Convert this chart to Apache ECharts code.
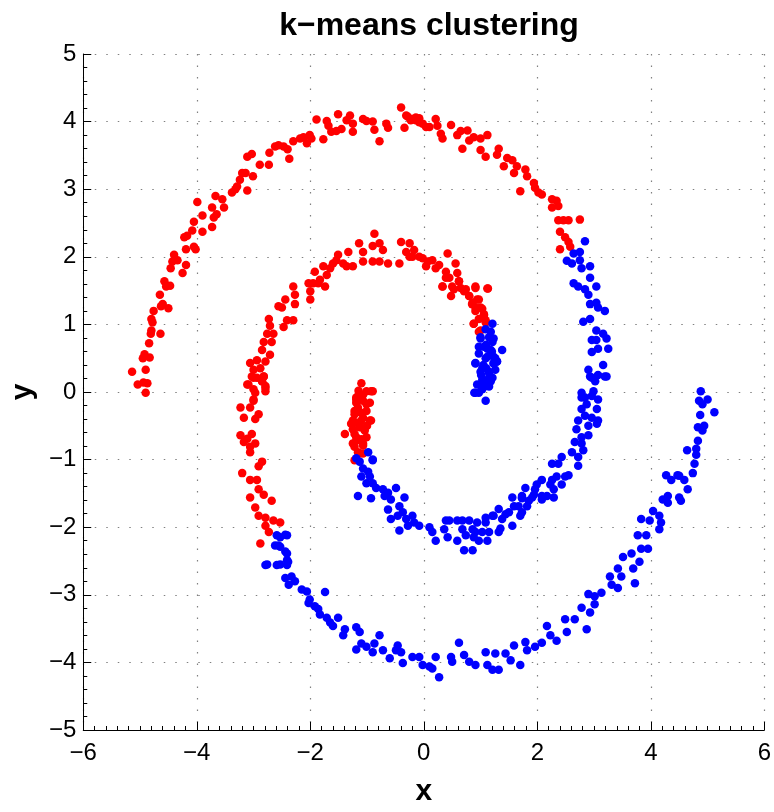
<!DOCTYPE html>
<html>
<head>
<meta charset="utf-8">
<script src="https://cdn.jsdelivr.net/npm/echarts@6/dist/echarts.min.js"></script>
<style>
  html, body { margin: 0; padding: 0; background: #fff; }
  #chart { width: 774px; height: 812px; }
</style>
</head>
<body>
<div id="chart"></div>
<script>
// cluster 1 (red)
let redPoints = [
  [-5.14,0.30],[-5.04,0.11],[-4.90,-0.01],[-4.94,0.14],[-4.87,0.13],[-4.90,0.33],[-4.95,0.50],[-4.92,0.56],[-4.83,0.51],[-4.84,0.72],
  [-4.81,0.86],[-4.80,0.91],[-4.78,1.03],[-4.80,1.08],[-4.76,1.20],[-4.64,0.86],[-4.63,1.27],[-4.60,1.30],[-4.50,1.24],[-4.65,1.44],
  [-4.57,1.64],[-4.54,1.56],[-4.47,1.57],[-4.46,1.83],[-4.43,1.93],[-4.40,2.03],[-4.34,1.95],[-4.25,1.76],[-4.19,1.88],[-4.22,2.29],
  [-4.17,2.31],[-4.19,2.11],[-4.02,2.11],[-4.05,2.15],[-4.08,2.39],[-4.05,2.52],[-3.99,2.81],[-3.90,2.61],[-3.90,2.37],[-3.73,2.44],
  [-3.70,2.58],[-3.73,2.73],[-3.67,2.90],[-3.55,2.85],[-3.52,2.73],[-3.65,2.63],[-3.38,2.95],[-3.32,3.00],[-3.29,3.04],[-3.24,3.14],
  [-3.20,3.24],[-3.14,3.24],[-3.11,2.98],[-3.01,3.19],[-3.11,3.48],[-3.03,3.52],[-2.89,3.36],[-2.73,3.36],[-2.72,3.54],[-2.62,3.63],
  [-2.56,3.65],[-2.47,3.63],[-2.40,3.59],[-2.37,3.45],[-2.30,3.71],[-2.18,3.75],[-2.12,3.77],[-2.06,3.68],[-2.01,3.80],[-1.98,3.75],
  [-1.89,4.03],[-1.77,3.74],[-1.71,4.01],[-1.68,3.94],[-1.63,3.85],[-1.54,3.86],[-1.51,4.11],[-1.45,3.89],[-1.36,4.02],[-1.30,4.09],
  [-1.25,3.85],[-1.25,3.97],[-1.07,4.04],[-1.01,4.01],[-0.90,4.00],[-0.87,3.88],[-0.78,3.71],[-0.66,3.97],[-0.63,3.91],[-0.40,4.21],
  [-0.34,3.91],[-0.28,4.07],[-0.23,4.02],[-0.14,4.02],[-0.08,4.05],[-0.02,3.97],[0.04,3.92],[-0.31,4.09],[-0.20,4.04],[-0.14,4.06],
  [-0.08,3.99],[0.10,3.92],[0.21,4.04],[0.24,3.94],[0.30,3.82],[0.33,3.75],[0.48,3.95],[0.59,3.80],[0.65,3.86],[0.68,3.60],
  [0.77,3.87],[0.80,3.72],[0.88,3.77],[1.00,3.75],[1.00,3.58],[1.09,3.48],[1.12,3.80],[1.32,3.60],[1.29,3.51],[1.47,3.46],
  [1.41,3.34],[1.56,3.43],[1.59,3.24],[1.64,3.34],[1.70,2.97],[1.79,3.29],[1.82,3.19],[1.94,3.09],[1.96,3.02],[2.02,2.95],
  [2.08,2.92],[2.26,2.85],[2.34,2.83],[2.26,2.73],[2.37,2.75],[2.37,2.54],[2.46,2.54],[2.55,2.54],[2.75,2.55],[2.40,2.37],
  [2.49,2.29],[2.55,2.22],[2.40,2.11],[2.58,2.15],
  [-0.87,2.34],[-1.14,2.20],[-0.90,2.16],[-0.78,2.20],[-0.72,2.10],[-0.90,1.93],[-0.78,1.93],[-0.63,1.90],[-0.40,2.22],[-0.25,2.20],
  [-0.43,1.90],[-0.25,2.00],[-0.17,2.10],[-0.08,2.00],[0.04,1.86],[-1.07,2.07],[-1.07,1.93],[-1.33,2.07],[-1.51,2.03],[-1.54,1.95],
  [-1.42,1.90],[-1.36,1.86],[-1.25,1.86],[-1.60,1.90],[-1.65,1.83],[-1.77,1.86],[-1.71,1.73],[-1.83,1.66],[-1.92,1.78],[-1.95,1.61],
  [-1.86,1.61],[-1.74,1.56],[-2.03,1.61],[-2.00,1.49],[-2.00,1.37],[-2.30,1.56],[-2.27,1.44],[-2.27,1.30],[-2.44,1.37],[-2.50,1.25],
  [-2.56,1.27],[-2.30,1.06],[-2.41,1.06],[-2.47,0.96],[-2.73,1.08],[-2.71,0.98],[-2.65,0.86],[-2.76,0.86],[-2.82,0.74],[-2.85,0.62],
  [-2.68,0.74],[-2.71,0.55],[-2.79,0.45],[-2.94,0.47],[-3.06,0.43],[-3.00,0.33],[-2.88,0.35],[-2.82,0.23],[-3.00,0.21],[-3.09,0.11],
  [-3.00,0.04],[-2.94,0.21],[-2.85,0.16],[-2.79,0.09],[-2.79,0.01],[-3.00,-0.11],
  [-0.31,2.07],[-0.20,2.00],[-0.02,1.98],[0.07,1.93],[0.15,1.95],[0.21,1.83],[0.27,1.88],[0.42,2.05],[0.39,1.78],[0.45,1.69],
  [0.56,1.90],[0.59,1.76],[0.62,1.64],[0.33,1.56],[0.50,1.56],[0.48,1.42],[0.65,1.54],[0.74,1.52],[0.91,1.56],[1.12,1.53],
  [0.80,1.42],[0.86,1.32],[0.97,1.37],[0.91,1.25],[1.03,1.23],[1.06,1.13],[0.88,1.01],[0.97,0.89],[1.09,1.06],
  [0.39,1.69],[0.62,1.64],[0.33,1.56],[0.53,1.52],[0.71,1.49],[0.91,1.54],[1.13,1.53],[0.80,1.42],[0.94,1.37],[0.85,1.30],
  [1.00,1.25],[0.91,1.20],[1.06,1.15],[0.97,1.08],[1.09,1.03],[0.88,1.01],[1.00,0.91],
  [-3.03,0.23],[-2.82,0.23],[-3.11,0.11],[-2.85,0.16],[-2.79,0.06],[-2.97,-0.01],[-3.00,-0.13],[-3.23,-0.23],[-3.06,-0.23],[-2.91,-0.33],
  [-3.17,-0.38],[-2.97,-0.40],[-3.23,-0.64],[-3.03,-0.62],[-2.97,-0.76],[-3.17,-0.74],[-3.06,-0.89],[-2.85,-1.03],[-2.91,-1.10],[-3.20,-1.20],
  [-3.06,-1.30],[-2.94,-1.30],[-2.91,-1.44],[-3.06,-1.56],[-2.82,-1.52],[-2.68,-1.61],[-2.97,-1.71],[-2.91,-1.83],[-2.79,-1.86],[-2.65,-1.90],
  [-2.53,-1.93],[-2.79,-1.98],[-2.73,-2.07],[-2.88,-2.24],[-3.06,-0.81],[-3.11,-0.69],
  [-1.10,0.13],[-1.01,0.01],[-0.90,0.01],[-1.19,-0.08],[-1.07,-0.13],[-1.16,-0.23],[-1.01,-0.28],[-1.22,-0.33],[-1.07,-0.38],[-0.95,-0.42],
  [-1.28,-0.47],[-1.13,-0.52],[-1.39,-0.62],[-1.22,-0.62],[-1.01,-0.67],[-1.25,-0.76],[-1.07,-0.79],[-1.16,-0.89],[-1.22,-1.01],[-1.07,-0.91],
  [-1.19,-0.72],[-1.10,-0.42],[-1.19,-0.16],[-0.95,-0.16],[-1.19,-0.11],[-1.15,-0.05],[-1.05,-0.55],[-1.20,-0.45],[-1.12,-0.30],[-1.00,-0.50],
  [-1.25,-0.55],[-1.10,-0.70],[-1.15,0.02],
  [-0.93,0.01],[-1.07,-0.04],[-1.01,-0.18],[-1.22,-0.28],[-1.25,-0.42],[-0.93,-0.42],[-1.13,-0.50],[-1.04,-0.57],[-1.19,-0.67],[-1.07,-0.76],
  [-1.22,-0.81],[-1.13,-0.91]
];

// cluster 2 (blue)
let bluePoints = [
  [1.21,1.01],[1.18,0.89],[1.23,0.79],[1.00,0.79],[0.97,0.67],[1.12,0.64],[1.38,0.62],[1.23,0.52],[1.29,0.45],[1.09,0.50],
  [0.91,0.43],[1.00,0.30],[1.15,0.28],[1.26,0.33],[1.03,0.18],[1.18,0.16],[1.09,0.09],[0.91,-0.01],[1.09,-0.13],[0.97,-0.01],
  [1.23,0.43],[1.15,0.21],[1.10,0.70],[1.05,0.40],[1.20,0.60],[1.10,0.35],[1.00,0.10],
  [1.09,0.93],[1.00,0.81],[1.15,0.81],[1.21,0.74],[1.06,0.67],[1.18,0.62],[0.97,0.57],[1.12,0.52],[1.26,0.50],[1.23,0.42],
  [0.91,0.42],[1.03,0.35],[1.15,0.30],[1.01,0.25],[1.21,0.21],[1.06,0.16],[0.94,0.11],[1.15,0.08],[1.03,0.04],[0.89,-0.01],
  [1.29,0.45],
  [2.84,2.23],[2.75,2.07],[2.64,2.05],[2.52,1.94],[2.61,1.90],[2.75,1.95],[2.78,1.83],[2.93,1.86],[2.93,1.69],[2.64,1.61],
  [2.72,1.56],[2.84,1.52],[2.90,1.44],[3.04,1.56],[2.93,1.30],[3.04,1.32],[3.07,1.25],[3.19,1.20],[2.93,1.08],[2.81,1.04],
  [3.04,0.91],[2.96,0.77],[3.16,0.86],[3.22,0.79],[3.25,0.64],[3.07,0.64],[2.96,0.59],[3.04,0.77],[2.90,0.33],[2.96,0.21],
  [3.07,0.25],[3.16,0.40],[3.22,0.23],[2.78,-0.01],[2.84,-0.08],[2.96,-0.06],[3.07,-0.11],
  [2.93,0.23],[3.02,0.16],[3.19,0.23],[2.99,0.01],[2.78,-0.08],[2.87,-0.18],[3.05,-0.25],[2.78,-0.25],[2.84,-0.35],[2.96,-0.38],
  [2.72,-0.42],[3.07,-0.42],[2.90,-0.50],[3.05,-0.47],[2.69,-0.55],[2.78,-0.67],[2.90,-0.64],[2.66,-0.74],[2.78,-0.76],[2.61,-0.89],
  [2.81,-0.86],[2.72,-0.96],[2.43,-0.96],[2.37,-1.06],[2.26,-1.06],[2.72,-1.09],[2.49,-1.25],[2.55,-1.23],[2.26,-1.30],[2.43,-1.37],
  [2.29,-1.44],[1.99,-1.37],[1.96,-1.44],[1.91,-1.56],[1.73,-1.56],[2.08,-1.59],[2.17,-1.54],[2.29,-1.56],
  [-0.98,-0.89],[-0.90,-1.01],[-1.13,-1.03],[-1.07,-1.13],[-0.98,-1.18],[-1.10,-1.25],[-0.95,-1.25],[-1.01,-1.35],[-0.90,-1.35],[-0.84,-1.42],
  [-1.16,-1.54],[-0.93,-1.57],[-0.72,-1.44],[-0.63,-1.49],[-0.49,-1.42],[-0.69,-1.54],[-0.58,-1.59],[-0.34,-1.56],[-0.63,-1.74],[-0.58,-1.88],
  [-0.43,-1.69],[-0.37,-1.78],[-0.46,-1.83],[-0.31,-1.88],[-0.20,-1.83],[-0.17,-1.93],[-0.08,-1.98],[-0.43,-2.05],[-0.28,-1.98],[0.10,-2.00],
  [0.15,-2.07],[0.21,-2.20],[0.39,-1.90],[0.36,-2.03],[0.42,-2.15],[0.59,-1.90],[0.68,-2.03],[0.80,-1.90],[0.74,-2.12],[0.86,-2.03],
  [0.88,-2.15],[0.86,-2.34],[1.03,-2.07],[1.09,-1.93],[1.15,-2.07],[1.23,-1.83],[1.32,-2.07],[1.38,-1.88],[1.50,-1.78],[1.56,-1.98],
  [1.70,-1.83],[1.73,-1.57],[1.82,-1.69],[1.67,-1.69],[1.12,-2.20],
  [0.45,-1.90],[0.68,-1.90],[0.94,-1.93],[1.09,-1.86],[1.21,-1.83],[1.32,-1.73],[1.44,-1.81],[1.56,-1.56],[1.59,-1.69],[1.73,-1.78],
  [1.73,-1.54],[1.85,-1.61],[1.79,-1.42],[1.94,-1.52],[2.08,-1.54],[2.08,-1.30],[2.23,-1.37],[2.34,-1.25],[0.91,-2.07],[1.35,-2.02],
  [0.71,-2.34],[0.59,-2.20],[0.97,-2.20],[-1.19,-0.98],[-0.90,-1.00],
  [-2.53,-2.15],[-2.41,-2.12],[-2.56,-2.27],[-2.41,-2.39],[-2.76,-2.55],[-2.53,-2.55],[-2.39,-2.51],
  [-2.59,-2.12],[-2.44,-2.11],[-2.62,-2.27],[-2.53,-2.29],[-2.44,-2.36],[-2.79,-2.56],[-2.59,-2.56],[-2.41,-2.49],[-2.41,-2.56],[-2.44,-2.75],
  [-2.33,-2.73],[-2.38,-2.85],[-2.27,-2.80],[-2.15,-2.92],[-2.06,-2.95],[-1.74,-2.96],[-2.01,-3.07],[-2.03,-3.12],[-1.92,-3.17],[-1.86,-3.21],
  [-1.83,-3.29],[-1.71,-3.34],[-1.65,-3.41],[-1.51,-3.34],[-1.60,-3.46],[-1.39,-3.51],[-1.42,-3.60],[-1.19,-3.48],[-1.13,-3.55],[-1.10,-3.72],
  [-1.19,-3.81],[-1.01,-3.77],[-0.87,-3.72],[-0.90,-3.85],[-0.78,-3.60],[-0.72,-3.82],[-0.60,-3.94],[-0.46,-3.75],[-0.40,-3.85],[-0.49,-3.82],
  [-0.37,-4.01],[-0.20,-3.92],[-0.08,-3.92],[-0.02,-4.04],[0.10,-4.06],[0.21,-3.92],[0.27,-4.22],[0.15,-4.09],[0.48,-3.92],[0.50,-3.99],
  [0.62,-3.71],[0.71,-3.89],[0.80,-3.99],[0.91,-4.04],[1.09,-3.85],[1.12,-4.04],[1.21,-4.11],[1.32,-4.11],[1.26,-3.87],[1.44,-3.87],
  [1.53,-3.97],[1.59,-3.75],[1.70,-4.04],[1.79,-3.70],[1.82,-3.82],[1.96,-3.77],[2.08,-3.71],[2.17,-3.46],[2.23,-3.60],[2.34,-3.68],
  [2.52,-3.55],[2.49,-3.36],[2.66,-3.36],[2.90,-2.99],[3.01,-3.02],[2.78,-3.19],[2.93,-3.26],[2.87,-3.51],[3.01,-3.14],[3.13,-2.97],
  [3.28,-2.73],[3.31,-2.85],[3.42,-2.90],[3.42,-2.61],[3.48,-2.73],[3.51,-2.44],[3.66,-2.39],[3.69,-2.61],[3.72,-2.83],[3.80,-2.51],
  [3.77,-2.12],[3.92,-2.12],[3.83,-2.32],[3.95,-2.32],[3.98,-1.90],[4.04,-1.76],[4.15,-1.83],[4.18,-1.93],[4.15,-2.03],[4.21,-1.59],
  [4.30,-1.54],[4.30,-1.64],[4.36,-1.30],[4.27,-1.23],[4.47,-1.23],[3.83,-1.88],
  [4.88,0.01],[4.85,-0.13],[5.00,-0.11],[4.91,-0.18],[5.12,-0.30],[4.87,-0.34],[4.83,-0.52],[4.94,-0.50],[4.91,-0.57],[4.83,-0.72],
  [4.80,-0.84],[4.64,-0.86],[4.80,-0.93],[4.77,-1.06],[4.74,-1.20],[4.50,-1.24],[4.59,-1.30],[4.65,-1.44],[4.50,-1.56],[4.53,-1.61]
];

let xRange = [-6, 6];
let yRange = [-5, 5];

let font = "'Liberation Sans', Arial, Helvetica, sans-serif";
let minus = (v) => String(v).replace("-", "\u2212");

let chart = echarts.init(document.getElementById("chart"));
let gridLine = { show: true, lineStyle: { color: "#808080", width: 1.2, type: [1.5, 10] } };

let option = {
  animation: false,
  title: {
    text: "k\u2212means clustering",
    left: 424,
    textAlign: "center",
    top: 5,
    textStyle: { fontFamily: font, fontWeight: "bold", fontSize: 32, color: "#000" },
  },
  grid: { left: 82, right: 7, top: 54, bottom: 71 },
  xAxis: {
    type: "value",
    min: xRange[0],
    max: xRange[1],
    interval: 2,
    name: "x",
    nameLocation: "middle",
    nameGap: 47,
    nameTextStyle: { fontFamily: font, fontWeight: "bold", fontSize: 30, color: "#000" },
    axisLine: { show: true, onZero: false, lineStyle: { color: "#000", width: 1 } },
    axisTick: { show: true, inside: true, length: 8, lineStyle: { color: "#000" } },
    minorTick: { show: true, splitNumber: 10, length: 4, lineStyle: { color: "#000" } },
    axisLabel: { fontFamily: font, fontSize: 24, color: "#000", margin: 11, formatter: minus },
    splitLine: gridLine,
  },
  yAxis: {
    type: "value",
    min: yRange[0],
    max: yRange[1],
    interval: 1,
    name: "y",
    nameLocation: "middle",
    nameGap: 38,
    nameTextStyle: { fontFamily: font, fontWeight: "bold", fontSize: 30, color: "#000" },
    axisLine: { show: true, onZero: false, lineStyle: { color: "#000", width: 1 } },
    axisTick: { show: true, inside: true, length: 8, lineStyle: { color: "#000" } },
    minorTick: { show: true, splitNumber: 5, length: 4, lineStyle: { color: "#000" } },
    axisLabel: { fontFamily: font, fontSize: 24, color: "#000", margin: 7, formatter: minus },
    splitLine: gridLine,
  },
  series: [
    {
      name: "cluster 1",
      type: "scatter",
      symbolSize: 8.5,
      itemStyle: { color: "#ff0000", opacity: 1 },
      data: redPoints,
    },
    {
      name: "cluster 2",
      type: "scatter",
      symbolSize: 8.5,
      itemStyle: { color: "#0000ff", opacity: 1 },
      data: bluePoints,
    },
  ],
};
chart.setOption(option);
</script>
</body>
</html>
